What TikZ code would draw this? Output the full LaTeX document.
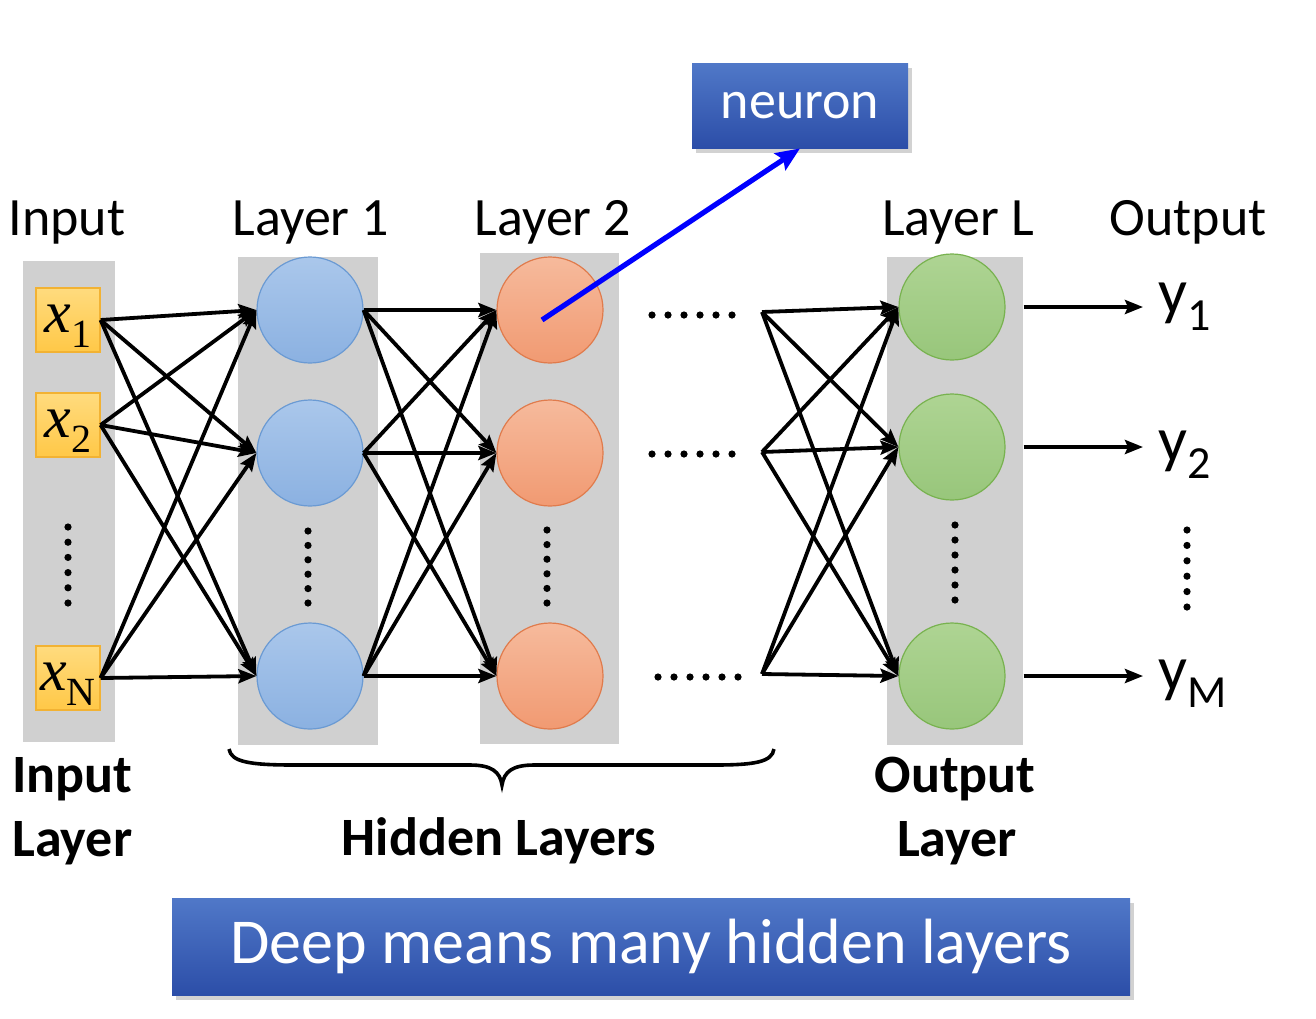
\documentclass[tikz,border=0pt]{standalone}
\usepackage{fontspec}
\setmainfont{Carlito}
\newfontfamily\timesf{Liberation Serif}
\usetikzlibrary{arrows.meta,shadows,calc}
\definecolor{colgray}{HTML}{D0D0D0}
\definecolor{bluetop}{HTML}{AAC7EB}
\definecolor{bluebot}{HTML}{8BB1E1}
\definecolor{blueline}{HTML}{6A9AD3}
\definecolor{orgtop}{HTML}{F6BA9C}
\definecolor{orgbot}{HTML}{F19A72}
\definecolor{orgline}{HTML}{E07B4C}
\definecolor{grntop}{HTML}{AED493}
\definecolor{grnbot}{HTML}{98C67B}
\definecolor{grnline}{HTML}{78B24F}
\definecolor{yeltop}{HTML}{FFDB7E}
\definecolor{yelbot}{HTML}{FFC847}
\definecolor{yelline}{HTML}{F2B233}
\definecolor{bantop}{HTML}{5078C8}
\definecolor{banbot}{HTML}{2C4EA8}
\begin{document}
\begin{tikzpicture}[x=0.5pt,y=-0.5pt,
  neuronbase/.style={circle,minimum size=53pt,inner sep=0pt,line width=0.6pt},
  nblue/.style={neuronbase,draw=blueline,top color=bluetop,bottom color=bluebot},
  norange/.style={neuronbase,draw=orgline,top color=orgtop,bottom color=orgbot},
  ngreen/.style={neuronbase,draw=grnline,top color=grntop,bottom color=grnbot},
  xbox/.style={rectangle,minimum size=32pt,inner sep=0pt,draw=yelline,line width=0.6pt,top color=yeltop,bottom color=yelbot},
  conn/.style={line width=1.9pt,-{Stealth[length=9pt,width=7pt,inset=1.5pt]}},
  toplabel/.style={anchor=base,font=\fontsize{27}{32}\selectfont,inner sep=0pt},
  boldlabel/.style={anchor=base,font=\fontsize{27}{32}\selectfont\bfseries,inner sep=0pt},
  bannerbox/.style={rectangle,inner sep=0pt,text=white,top color=bantop,bottom color=banbot,
     drop shadow={opacity=0.35,shadow xshift=2pt,shadow yshift=-2.5pt}},
  dotmark/.style={circle,fill=black,inner sep=0pt,minimum size=3.6pt},
]
\useasboundingbox (0,0) rectangle (1316,1018);
\fill[white] (0,0) rectangle (1316,1018);

% gray columns
\fill[colgray] (23,261) rectangle (115,742);
\fill[colgray] (238,257) rectangle (378,745);
\fill[colgray] (480,253) rectangle (619,744);
\fill[colgray] (887,257) rectangle (1023,745);

% top labels
\node[toplabel] (tIn) at (67,235) {Input};
\node[toplabel] (tL1) at (311,235) {Layer 1};
\node[toplabel] (tL2) at (553,235) {Layer 2};
\node[toplabel] (tLL) at (958,235) {Layer L};
\node[toplabel] (tOut) at (1188,235) {Output};

% input boxes
\node[xbox] (x1) at (68,320) {};
\node[xbox] (x2) at (68,425) {};
\node[xbox] (xN) at (68,678) {};
\node[anchor=base,inner sep=0pt] (x1t) at (68,332) {{\fontsize{30}{30}\selectfont\timesf\itshape x}\raisebox{-7.5pt}{\fontsize{20}{20}\selectfont\timesf 1}};
\node[anchor=base,inner sep=0pt] (x2t) at (68,437) {{\fontsize{30}{30}\selectfont\timesf\itshape x}\raisebox{-7.5pt}{\fontsize{20}{20}\selectfont\timesf 2}};
\node[anchor=base,inner sep=0pt] (xNt) at (68,690) {{\fontsize{30}{30}\selectfont\timesf\itshape x}\raisebox{-7.5pt}{\fontsize{20}{20}\selectfont\timesf N}};

% neurons
\node[nblue] (a1) at (310,310) {};
\node[nblue] (a2) at (310,453) {};
\node[nblue] (a3) at (310,676) {};
\node[norange] (b1) at (550,310) {};
\node[norange] (b2) at (550,453) {};
\node[norange] (b3) at (550,676) {};
\node[ngreen] (g1) at (952,307) {};
\node[ngreen] (g2) at (952,447) {};
\node[ngreen] (g3) at (952,676) {};

% vertical dots
\foreach \cx/\ya/\yb in {68/527/603, 308/531/603, 547/530/603, 955/525/600, 1187/530/607}{
  \foreach \k in {0,...,5}{
    \node[dotmark] at (\cx,{\ya+\k*(\yb-\ya)/5}) {};
  }
}
% horizontal dots
\foreach \xa/\xb/\cy in {652/732/315, 652/732/454, 658/738/677}{
  \foreach \k in {0,...,5}{
    \node[dotmark] at ({\xa+\k*(\xb-\xa)/5},\cy) {};
  }
}

% connections input -> layer 1
\foreach \i in {x1,x2,xN}{
  \foreach \j in {a1,a2,a3}{
    \draw[conn] (\i.east) -- (\j.west);
  }
}
% layer 1 -> layer 2
\foreach \i in {a1,a2,a3}{
  \foreach \j in {b1,b2,b3}{
    \draw[conn] (\i.east) -- (\j.west);
  }
}
% ... -> layer L
\coordinate (c1) at (762,312);
\coordinate (c2) at (762,452);
\coordinate (c3) at (762,674);
\foreach \i in {c1,c2,c3}{
  \foreach \j in {g1,g2,g3}{
    \draw[conn] (\i) -- (\j.west);
  }
}
% outputs
\coordinate (o1) at (1143,307);
\coordinate (o2) at (1143,447);
\coordinate (o3) at (1143,676);
\foreach \k in {1,2,3}{
  \draw[conn,shorten <=9pt] (g\k.east) -- (o\k);
}
\node[anchor=base west,inner sep=0pt] (y1) at (1158,313) {\fontsize{32}{32}\selectfont y\raisebox{-8.5pt}{\fontsize{23}{23}\selectfont 1}};
\node[anchor=base west,inner sep=0pt] (y2) at (1158,461) {\fontsize{32}{32}\selectfont y\raisebox{-8.5pt}{\fontsize{23}{23}\selectfont 2}};
\node[anchor=base west,inner sep=0pt] (yM) at (1158,690) {\fontsize{32}{32}\selectfont y\raisebox{-8.5pt}{\fontsize{23}{23}\selectfont M}};

% neuron callout
\node[bannerbox,minimum width=108pt,minimum height=42.5pt,font=\fontsize{27}{32}\selectfont] (neuron) at (800,105.5) {neuron};
\draw[line width=2.6pt,draw=blue,-{Stealth[length=12pt,width=10pt,inset=2pt]}] ($(b1.center)+(-8,10)$) -- (neuron.south);

% brace
\draw[line width=1.8pt] (229,749) .. controls (231,762) and (250,765) .. (294,765)
   -- (470,765) .. controls (492,765) and (500,772) .. (502,785)
   .. controls (504,772) and (512,765) .. (534,765)
   -- (714,765) .. controls (755,765) and (772,762) .. (774,749);

% bottom labels
\node[boldlabel,anchor=base west] (bIn1) at (12,792) {Input};
\node[boldlabel,anchor=base west] (bIn2) at (12,856) {Layer};
\node[boldlabel] (bHid) at (499,855) {Hidden Layers};
\node[boldlabel] (bOut1) at (955,792) {Output};
\node[boldlabel] (bOut2) at (957,856) {Layer};

% banner
\node[bannerbox,minimum width=479pt,minimum height=48.5pt,font=\fontsize{32}{38}\selectfont] (banner) at (651,946.5) {Deep means many hidden layers};
\end{tikzpicture}
\end{document}
